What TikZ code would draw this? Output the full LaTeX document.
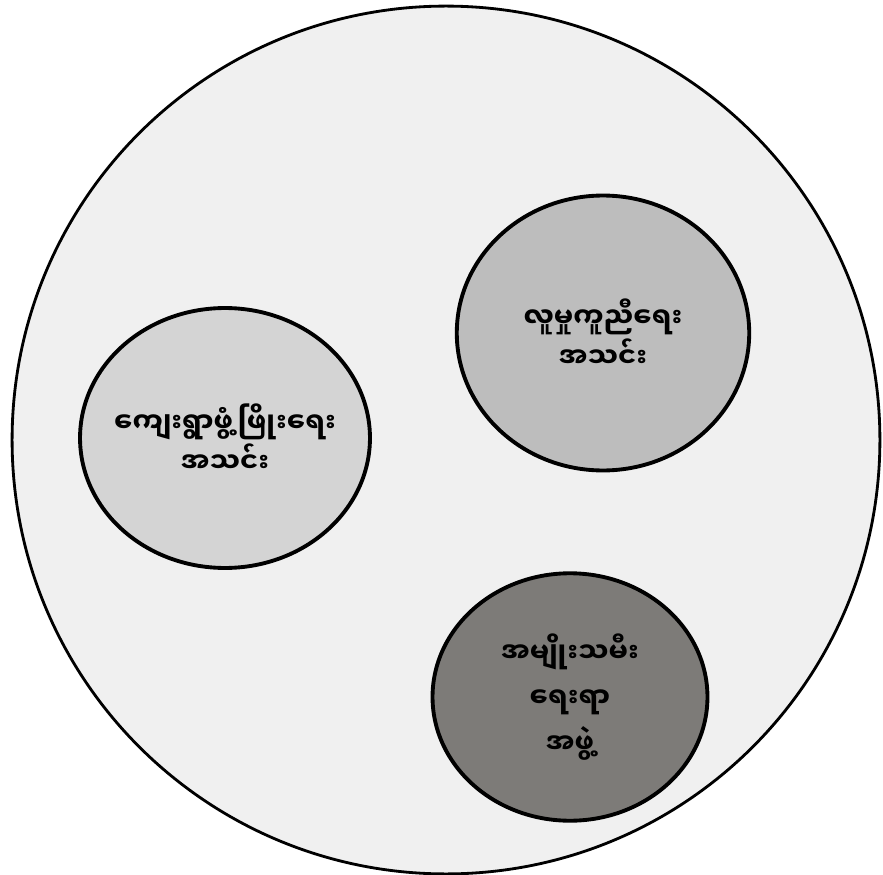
\documentclass[tikz,border=0pt]{standalone}
\usepackage{fontspec}
\newfontfamily\mmfont[Script=Myanmar]{Noto Sans Myanmar UI}
\usetikzlibrary{shapes.geometric}
\begin{document}
\begin{tikzpicture}[
  x=0.02cm, y=-0.02cm,
  group/.style={ellipse, draw, line width=2.2pt, inner xsep=-1.2cm, inner ysep=0pt, align=center,
    font=\mmfont\bfseries\fontsize{15.5}{23}\selectfont},
  line width=1.6pt
]
  \useasboundingbox (0,0) rectangle (883,875);
  \node[circle, draw, fill=black!6, minimum size=17.36cm] (outer) at (446,440) {};
  \node[group, fill=black!17, minimum width=5.8cm, minimum height=5.2cm] (village) at (225,438) {ကျေးရွာဖွံ့ဖြိုးရေး\\အသင်း};
  \node[group, fill=black!26, minimum width=5.85cm, minimum height=5.5cm] (social) at (603,333) {လူမှုကူညီရေး\\အသင်း};
  \node[group, fill=black!48!brown!8!gray, minimum width=5.5cm, minimum height=4.95cm,
    font=\mmfont\bfseries\fontsize{15.5}{26}\selectfont] (women) at (570,697) {အမျိုးသမီး\\ရေးရာ\\အဖွဲ့};
\end{tikzpicture}
\end{document}
